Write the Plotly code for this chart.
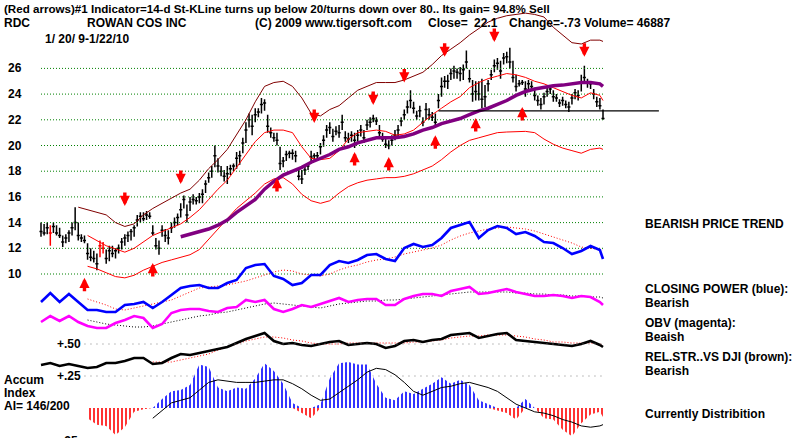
import plotly.graph_objects as go

# ---------------- DATA ----------------
# Daily price bars (high / low / close), RDC 1/20/09 - 1/22/10
high = [14.0,13.9,14.0,13.8,14.0,13.8,13.6,13.0,13.1,13.4,14.0,15.2,14.0,13.1,13.0,12.4,12.0,11.8,11.6,12.6,
        12.5,11.9,12.2,12.2,12.0,12.3,12.8,13.1,13.3,13.5,13.8,14.6,14.8,14.8,14.9,14.8,13.8,12.8,12.6,13.8,
        13.5,13.4,14.0,14.4,14.7,15.5,16.1,15.4,16.0,16.2,16.0,16.3,16.6,17.3,17.9,18.4,20.0,19.0,18.4,18.1,
        18.4,18.5,18.6,19.5,19.6,20.6,21.8,22.5,22.4,22.9,22.9,23.7,23.6,22.4,21.4,21.0,21.0,19.9,19.1,19.6,
        19.6,19.7,19.6,18.2,18.1,18.5,18.6,19.6,19.4,19.5,20.2,20.8,21.6,21.8,21.3,21.5,21.6,22.4,21.1,21.0,
        21.1,21.0,21.2,21.6,21.2,22.0,22.2,22.4,22.2,21.6,21.0,20.6,20.4,20.8,21.2,21.6,22.2,22.8,23.5,24.3,
        23.4,22.7,23.1,22.2,23.3,22.9,22.6,22.5,24.0,25.3,25.4,25.5,26.0,26.2,26.0,26.1,26.3,27.4,25.9,25.1,
        25.0,25.0,25.2,24.7,25.1,25.9,26.7,26.8,26.6,27.2,27.3,27.6,26.6,25.5,25.1,25.1,25.0,25.1,25.0,24.5,
        23.9,23.7,24.1,24.5,24.7,24.3,24.0,23.6,23.8,23.5,23.4,24.0,24.4,24.3,25.5,26.2,25.2,25.0,24.4,23.8,
        23.7,22.8]
low = [12.9,13.0,13.1,12.2,13.2,13.0,12.8,12.1,12.4,12.5,13.0,13.4,12.6,12.5,12.4,11.1,11.0,10.9,10.3,11.3,
       11.6,10.8,11.0,11.3,11.2,11.6,11.9,12.2,12.5,12.6,12.9,13.7,14.0,14.1,14.2,14.3,13.0,11.9,11.5,12.9,
       12.5,12.3,13.2,13.6,13.8,14.4,15.1,14.0,14.9,15.4,15.4,15.5,15.5,16.3,17.1,17.5,18.3,17.9,17.6,17.2,
       17.0,17.7,18.0,18.2,18.5,19.4,20.2,21.4,20.8,21.8,22.2,22.5,22.7,21.0,20.6,20.3,20.0,18.1,18.3,18.8,
       19.0,18.9,18.7,17.3,17.0,17.7,18.1,18.6,18.8,18.9,19.3,19.9,20.6,20.9,20.3,20.8,20.6,21.2,20.3,20.2,
       20.3,19.8,20.3,20.7,20.2,21.2,21.4,21.8,21.6,20.7,20.3,19.8,19.7,20.0,20.4,20.7,21.5,22.0,22.5,22.9,
       22.5,22.0,22.2,21.5,22.0,22.0,21.9,21.4,22.9,23.8,24.5,24.4,25.1,25.2,25.2,25.0,25.1,26.0,24.9,23.4,
       23.5,23.5,22.9,23.0,24.2,25.1,25.7,25.9,25.2,26.3,26.4,26.0,24.9,24.2,24.6,24.7,23.8,24.4,24.3,23.5,
       23.1,22.8,23.2,23.8,24.0,23.4,23.4,23.0,23.1,22.9,22.6,23.2,23.6,23.5,24.2,24.9,24.5,24.4,23.6,23.0,
       22.8,22.0]
close = [13.3,13.2,13.6,13.2,13.7,13.2,13.0,12.5,12.8,13.2,13.6,14.0,13.0,12.8,12.6,11.6,11.3,11.2,10.8,12.2,
         12.0,11.2,11.8,11.6,11.8,12.0,12.5,12.8,13.0,13.3,13.6,14.2,14.5,14.3,14.6,14.5,13.2,12.2,12.0,13.4,
         13.0,12.8,13.6,14.0,14.4,15.0,15.8,14.6,15.6,15.8,15.7,16.0,16.2,17.0,17.5,18.0,19.2,18.4,18.0,17.6,
         17.8,18.2,18.4,19.0,19.2,20.2,21.2,22.0,21.5,22.4,22.6,23.2,23.3,21.5,21.0,20.6,20.4,18.6,18.8,19.3,
         19.4,19.4,19.2,17.6,17.4,18.1,18.4,19.1,19.2,19.2,19.9,20.4,21.2,21.4,20.7,21.1,21.0,21.8,20.6,20.5,
         20.8,20.4,20.8,21.2,20.6,21.6,21.8,22.1,21.9,21.0,20.5,20.1,20.0,20.4,20.8,21.2,21.9,22.4,23.0,23.5,
         22.9,22.3,22.7,21.8,22.8,22.4,22.2,21.8,23.5,24.6,25.0,25.0,25.6,25.8,25.7,25.6,25.9,26.5,25.2,24.0,
         24.2,24.0,23.6,23.8,24.8,25.5,26.2,26.4,25.8,26.8,26.9,26.5,25.3,24.6,24.8,24.9,24.4,24.8,24.6,23.9,
         23.5,23.2,23.8,24.2,24.4,23.8,23.7,23.3,23.5,23.2,23.0,23.7,24.1,23.9,24.9,25.3,24.9,24.8,24.0,23.4,
         23.1,22.1]
red_bar_days = [3, 19, 20]

# Sampling days for the indicator / band lines (every 3rd bar + last bar)
line_days = list(range(0, 181, 3)) + [181]

N4, N5 = [None] * 4, [None] * 5
upper_band = N4 + [15.2,15.0,14.8,14.6,14.0,13.7,13.9,14.6,15.1,15.5,15.9,16.3,16.6,17.3,18.2,18.9,19.7,20.9,22.0,23.4,
                   24.6,24.9,25.0,24.6,23.7,22.5,22.3,22.8,23.1,23.7,24.3,24.6,24.9,24.9,24.9,25.1,25.4,25.7,26.3,27.0,
                   27.5,28.0,28.6,29.1,29.6,29.9,30.1,30.2,30.3,30.2,30.0,29.2,28.6,28.0,27.9,28.2,28.2,28.1]
mid_band = N5 + [13.0,12.6,12.2,11.95,11.7,12.0,12.5,13.0,13.3,13.6,13.9,14.4,15.0,15.8,16.6,17.3,18.3,19.3,20.3,21.0,
                 21.2,21.2,21.0,19.9,19.0,18.9,19.0,19.6,20.5,21.0,21.1,21.2,21.1,20.8,20.9,21.2,21.8,22.4,22.9,23.4,
                 23.8,24.5,24.9,25.2,25.4,25.6,25.5,25.3,25.0,24.8,24.5,24.2,23.9,23.7,24.1,23.9,23.5]
lower_band = N5 + [10.6,10.4,10.1,9.8,9.7,9.9,10.3,10.6,10.9,11.1,11.3,11.5,11.9,12.7,13.5,14.3,15.1,15.7,16.3,17.0,
                   17.4,17.5,17.0,16.2,15.7,15.5,15.7,16.3,16.8,17.1,17.3,17.4,17.5,17.5,17.6,17.8,18.1,18.4,18.9,19.5,
                   20.0,20.4,20.6,20.8,21.0,21.05,21.1,21.1,21.0,20.5,20.1,19.8,19.6,19.4,19.7,19.8,19.7]
ma50 = [None] * 15 + [12.9,13.1,13.3,13.5,13.8,14.2,14.8,15.3,15.8,16.6,17.2,17.7,18.0,18.3,18.7,19.0,19.3,19.7,19.9,20.2,
                      20.4,20.6,20.6,20.6,20.7,20.9,21.2,21.4,21.7,21.9,22.1,22.4,22.7,22.9,23.2,23.5,23.9,24.2,24.4,24.55,
                      24.65,24.7,24.8,24.9,24.9,24.8,24.6]

closing_power = [18,27,18,26,18,10,10,8,8,15,16,18,12,18,25,32,34,35,32,32,37,40,52,55,56,44,41,35,37,45,45,55,59,57,60,
                 65,66,61,59,72,76,73,75,82,92,95,98,82,90,94,92,86,88,84,78,77,72,66,69,74,70,61]
closing_power_ma = N5 + [21,18,15,11,10,12,14,16,18,20,24,28,32,33,34,35,37,39,42,45,48,50,49,46,45,44,46,50,53,55,58,60,
                         61,63,66,68,70,72,75,80,84,87,89,91,92,93,92,91,89,86,83,80,77,73,72,71,70]
obv = [18,24,19,24,18,14,12,12,17,20,24,22,12,16,27,30,31,31,29,28,32,33,40,38,40,31,28,31,35,33,36,39,42,38,40,41,41,35,
       35,41,44,46,46,44,49,51,53,46,47,49,51,48,46,44,44,45,44,42,44,43,38,35]
obv_ma = N5 + [20,18,16,15,14,13,13,14,16,18,20,22,24,25,27,28,30,32,34,36,37,36,35,34,33,32,34,36,37,38,39,39,40,40,41,
               42,43,44,45,46,47,48,48,48,48,48,47,47,46,46,45,45,44,44,43,43,42]
rel_strength = [15,17,14,16,14,12,13,17,17,19,22,22,16,17,22,26,25,27,29,31,33,37,41,44,47,39,36,37,35,34,36,38,39,35,36,
                37,36,32,34,39,40,38,40,41,45,46,47,42,44,46,47,40,39,38,37,36,35,34,36,39,35,33]
rel_strength_ma = [None] * 12 + [18,18,18,20,22,24,26,30,33,36,39,41,43,43,42,40,39,37,36,36,36,37,37,37,37,37,37,37,38,38,
                                 39,40,42,43,44,44,45,45,45,44,43,41,40,38,38,37,37,37,36,35]
accum_index = N5 + [-0.08,-0.13,-0.14,-0.21,-0.15,-0.03,-0.01,0.00,0.07,0.13,0.14,0.18,0.34,0.32,0.16,0.13,0.16,0.15,0.23,
                    0.35,0.29,0.19,0.04,-0.04,-0.08,0.03,0.23,0.35,0.36,0.34,0.34,0.19,0.08,0.06,0.13,0.11,0.15,0.19,0.24,
                    0.19,0.22,0.18,0.06,0.03,-0.02,-0.04,-0.09,0.07,0.00,-0.08,-0.09,-0.17,-0.22,-0.12,-0.05,-0.03,-0.07]
accum_index_ma = [None] * 12 + [-0.08,-0.02,0.04,0.06,0.08,0.14,0.20,0.22,0.21,0.20,0.20,0.20,0.21,0.22,0.22,0.19,0.15,0.10,
                                0.06,0.07,0.12,0.17,0.22,0.28,0.31,0.30,0.26,0.20,0.13,0.10,0.13,0.16,0.17,0.19,0.20,0.18,0.16,
                                0.13,0.08,0.03,0.00,-0.03,-0.04,-0.06,-0.09,-0.11,-0.14,-0.15,-0.14,-0.13]

# Stochastic signals (day, price at arrow tip)
sell_arrow_days = [27, 45, 88, 107, 117, 130, 146, 175]
sell_arrow_prices = [15.3, 17.0, 21.75, 23.15, 24.9, 26.9, 28.05, 26.9]
buy_arrow_days = [14, 36, 76, 101, 112, 127, 140, 155]
buy_arrow_prices = [9.7, 10.86, 17.47, 19.5, 19.1, 20.8, 22.14, 23.0]

support_days = [128, 199]
support_level = 22.7

price_ticks = [26, 24, 22, 20, 18, 16, 14, 12, 10]
ai_ticks = [0.50, 0.25]
ai_tick_labels = ["+.50", "+.25"]

# ---------------- FIGURE ----------------
W, H = 800, 438
X0, PX_PER_DAY = 41.0, 562.0 / 181
xr = [-X0 / PX_PER_DAY, (W - X0) / PX_PER_DAY]


def px_range(zero_px, px_per_unit, zero_val=0.0):
    # axis range making value zero_val sit at pixel row zero_px
    return [zero_val - (H - zero_px) / px_per_unit, zero_val + zero_px / px_per_unit]


FONT = "Liberation Sans"
fig = go.Figure()


def pairs(xs, ys):
    pts = [(a, b) for a, b in zip(xs, ys) if b is not None]
    return [p[0] for p in pts], [p[1] for p in pts]


# price gridlines (green dotted)
gx, gy = [], []
for v in price_ticks:
    gx += [0, 181, None]
    gy += [v, v, None]
fig.add_trace(go.Scatter(x=gx, y=gy, mode="lines", line=dict(color="#008000", width=1, dash="1px,2px"),
                         hoverinfo="skip", yaxis="y"))

# AI gridlines
ax_, ay_ = [], []
for v in ai_ticks:
    ax_ += [14, 181, None]
    ay_ += [v, v, None]
fig.add_trace(go.Scatter(x=ax_, y=ay_, mode="lines", line=dict(color="#808080", width=1, dash="1px,5px"),
                         hoverinfo="skip", yaxis="y5"))

# accumulation index histogram (vertical-stripe fill)
axs, ays = pairs(line_days, accum_index)
fig.add_trace(go.Scatter(x=axs, y=[max(v, 0) for v in ays], mode="lines", fill="tozeroy",
                         line=dict(color="rgba(0,0,255,0)", width=0), fillcolor="white",
                         fillpattern=dict(shape="|", fgcolor="#0000ff", fgopacity=1, bgcolor="white",
                                          size=4, solidity=0.4),
                         yaxis="y5"))
fig.add_trace(go.Scatter(x=axs, y=[min(v, 0) for v in ays], mode="lines", fill="tozeroy",
                         line=dict(color="rgba(255,0,0,0)", width=0), fillcolor="white",
                         fillpattern=dict(shape="|", fgcolor="#ff0000", fgopacity=1, bgcolor="white",
                                          size=4, solidity=0.4),
                         yaxis="y5"))
xs, ys = pairs(line_days, accum_index_ma)
fig.add_trace(go.Scatter(x=xs, y=ys, mode="lines", line=dict(color="black", width=1), yaxis="y5"))

days = list(range(len(close)))
black_days = [d for d in days if d not in red_bar_days]
fig.add_trace(go.Ohlc(x=black_days, open=[close[d] for d in black_days], high=[high[d] for d in black_days],
                      low=[low[d] for d in black_days], close=[close[d] for d in black_days],
                      increasing=dict(line=dict(color="black", width=1.5)),
                      decreasing=dict(line=dict(color="black", width=1.5)), tickwidth=0.5, yaxis="y"))
fig.add_trace(go.Ohlc(x=red_bar_days, open=[close[d] for d in red_bar_days], high=[high[d] for d in red_bar_days],
                      low=[low[d] for d in red_bar_days], close=[close[d] for d in red_bar_days],
                      increasing=dict(line=dict(color="#ff0000", width=1.5)),
                      decreasing=dict(line=dict(color="#ff0000", width=1.5)), tickwidth=0.5, yaxis="y"))

for series, color, width in [(upper_band, "#800000", 1), (mid_band, "#ff0000", 1),
                             (lower_band, "#ff0000", 1), (ma50, "#800080", 3.5)]:
    xs, ys = pairs(line_days, series)
    fig.add_trace(go.Scatter(x=xs, y=ys, mode="lines", line=dict(color=color, width=width), yaxis="y"))

fig.add_trace(go.Scatter(x=support_days, y=[support_level] * 2, mode="lines",
                         line=dict(color="black", width=1.2), yaxis="y"))

# closing power
xs, ys = pairs(line_days, closing_power_ma)
fig.add_trace(go.Scatter(x=xs, y=ys, mode="lines", line=dict(color="#ff0000", width=1, dash="1px,2px"), yaxis="y2"))
fig.add_trace(go.Scatter(x=line_days, y=closing_power, mode="lines", line=dict(color="#0000ff", width=2.6), yaxis="y2"))
# OBV
xs, ys = pairs(line_days, obv_ma)
fig.add_trace(go.Scatter(x=xs, y=ys, mode="lines", line=dict(color="black", width=1, dash="1px,2px"), yaxis="y3"))
fig.add_trace(go.Scatter(x=line_days, y=obv, mode="lines", line=dict(color="#ff00ff", width=2.6), yaxis="y3"))
# relative strength
xs, ys = pairs(line_days, rel_strength_ma)
fig.add_trace(go.Scatter(x=xs, y=ys, mode="lines", line=dict(color="#ff0000", width=1, dash="1px,2px"), yaxis="y4"))
fig.add_trace(go.Scatter(x=line_days, y=rel_strength, mode="lines", line=dict(color="black", width=2.6), yaxis="y4"))

ann = []
for d, p in zip(sell_arrow_days, sell_arrow_prices):
    ann.append(dict(x=d, y=p, xref="x", yref="y", text="", showarrow=True, arrowhead=2, arrowsize=0.6,
                    arrowwidth=3.4, arrowcolor="#ff0000", ax=0, ay=-15, standoff=0))
for d, p in zip(buy_arrow_days, buy_arrow_prices):
    ann.append(dict(x=d, y=p, xref="x", yref="y", text="", showarrow=True, arrowhead=2, arrowsize=0.6,
                    arrowwidth=3.4, arrowcolor="#ff0000", ax=0, ay=15, standoff=0))


def txt(s, xpx, ypx, yref="paper", yval=None, size=12):
    d = dict(text=s, x=xpx / W, xref="paper", xanchor="left", showarrow=False,
             font=dict(family=FONT, size=size, color="black", weight="bold"))
    if yval is None:
        d.update(y=1 - ypx / H, yref="paper", yanchor="middle")
    else:
        d.update(y=yval, yref=yref, yanchor="middle")
    ann.append(d)


for v in price_ticks:
    txt(str(v), 6, 0, yref="y", yval=v)
for v, lab in zip(ai_ticks, ai_tick_labels):
    txt(lab, 55, 0, yref="y5", yval=v)
txt("-.25", 55, 441)

txt("(Red arrows)#1 Indicator=14-d St-KLine turns up below 20/turns down over 80.. Its gain= 94.8% Sell", 2, 8, size=11.6)
txt("RDC", 2, 23)
txt("ROWAN COS INC", 85, 23)
txt("(C) 2009 www.tigersoft.com", 253, 23)
txt("Close=", 426, 23)
txt("22.1", 472, 23)
txt("Change=-.73 Volume= 46887", 507, 23)
txt("1/ 20/ 9-1/22/10", 43, 39)

txt("BEARISH PRICE TREND", 643, 224)
txt("CLOSING POWER (blue):", 643, 289)
txt("Bearish", 643, 303)
txt("OBV (magenta):", 643, 323)
txt("Beaish", 643, 337)
txt("REL.STR..VS DJI (brown):", 643, 357)
txt("Bearish", 643, 371)
txt("Currently Distribition", 643, 414)
txt("Accum", 2, 380)
txt("Index", 2, 393)
txt("AI= 146/200", 2, 406)

PRICE_ZERO_PX, PRICE_PX = 274 + 10 * 12.85, 12.85
hidden = dict(visible=False, fixedrange=True)
fig.update_layout(
    width=W, height=H, margin=dict(l=0, r=0, t=0, b=0),
    paper_bgcolor="white", plot_bgcolor="white", showlegend=False,
    xaxis=dict(range=xr, rangeslider=dict(visible=False), **hidden),
    yaxis=dict(range=px_range(PRICE_ZERO_PX, PRICE_PX), **hidden),
    yaxis2=dict(range=px_range(320, 1), overlaying="y", **hidden),
    yaxis3=dict(range=px_range(340, 1), overlaying="y", **hidden),
    yaxis4=dict(range=px_range(380, 1), overlaying="y", **hidden),
    yaxis5=dict(range=px_range(408, 128), overlaying="y", **hidden),
    annotations=ann,
)
fig.write_html("out.html")
